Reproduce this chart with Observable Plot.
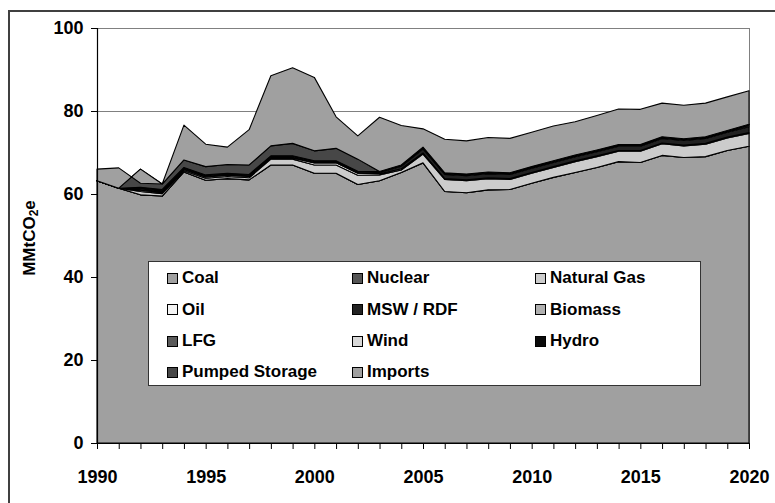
<!DOCTYPE html>
<html><head><meta charset="utf-8">
<script src="https://cdn.jsdelivr.net/npm/d3@7"></script>
<script src="https://cdn.jsdelivr.net/npm/@observablehq/plot@0.6"></script>
<style>
html,body{margin:0;padding:0;width:775px;height:503px;overflow:hidden;background:#fff;}
body{position:relative;font-family:"Liberation Sans",Arial,sans-serif;font-weight:bold;color:#000;}
#frame{position:absolute;left:8px;top:10px;width:800px;height:520px;border:2px solid #404040;box-sizing:border-box;}
#chart{position:absolute;left:0;top:0;}
#ylabel{position:absolute;left:30px;top:238px;transform:translate(-50%,-50%) rotate(-90deg);font-size:17px;white-space:nowrap;}
#ylabel sub{font-size:12px;vertical-align:-3px;}
#legend{position:absolute;left:148px;top:261px;width:553px;height:125px;background:#fff;border:1px solid #333;box-sizing:border-box;}
.item{position:absolute;display:flex;align-items:center;height:20px;font-size:17px;white-space:nowrap;}
.sw{width:11px;height:11px;border:1px solid #000;box-sizing:border-box;margin-right:4px;flex:none;}
</style></head><body>
<div id="frame"></div>
<div id="chart"></div>
<div id="ylabel">MMtCO<sub>2</sub>e</div>
<div id="legend"></div>
<script>
// ---- data ----
const years = [1990,1991,1992,1993,1994,1995,1996,1997,1998,1999,2000,2001,2002,2003,2004,2005,2006,2007,2008,2009,2010,2011,2012,2013,2014,2015,2016,2017,2018,2019,2020];
const seriesNames = ["Coal","Nuclear","Natural Gas","Oil","MSW / RDF","Biomass","LFG","Wind","Hydro","Pumped Storage","Imports"];
const coal = [63.2,61.4,59.8,59.5,65.3,63.3,63.7,63.4,67.0,67.0,65.0,65.0,62.3,63.2,65.2,67.5,60.6,60.3,61.0,61.1,62.6,64.0,65.2,66.4,67.8,67.6,69.3,68.8,69.0,70.5,71.5];
const nuclear = [0,0,0,0,0,0,0,0,0,0,0,0,0,0,0,0,0,0,0,0,0,0,0,0,0,0,0,0,0,0,0];
const naturalGas = [0,0,0.8,0.6,0.3,0.5,0.5,0.5,1.4,1.4,2.0,2.0,2.2,1.4,0.6,2.1,2.9,2.9,2.7,2.4,2.4,2.4,2.6,2.6,2.5,2.7,2.8,2.8,3.0,3.0,3.1];
const oil = [0,0,0.3,0.3,0.3,0.3,0.3,0.3,0.3,0.3,0.5,0.5,0.5,0.3,0.3,0.3,0.2,0.2,0.2,0.2,0.2,0.2,0.2,0.2,0.2,0.2,0.2,0.2,0.2,0.2,0.2];
const mswRdf = [0,0,0.3,0.3,0.3,0.3,0.3,0.3,0.3,0.3,0.3,0.3,0.3,0.3,0.6,0.9,1.0,1.0,1.0,1.0,1.0,1.0,1.0,1.0,1.0,1.0,1.1,1.1,1.2,1.2,1.4];
const biomass = [0,0,0.2,0.2,0.1,0.1,0.1,0.1,0.1,0.1,0.1,0.1,0.1,0.1,0.2,0.3,0.2,0.2,0.2,0.2,0.2,0.2,0.2,0.2,0.2,0.2,0.2,0.2,0.2,0.2,0.3];
const lfg = [0,0,0.2,0.2,0.1,0.1,0.1,0.1,0.1,0.1,0.1,0.1,0.1,0.1,0.1,0.2,0.2,0.2,0.2,0.2,0.2,0.2,0.2,0.2,0.2,0.2,0.2,0.2,0.2,0.2,0.3];
const wind = [0,0,0,0,0,0,0,0,0,0,0,0,0,0,0,0,0,0,0,0,0,0,0,0,0,0,0,0,0,0,0];
const hydro = [0,0,0,0,0,0,0,0,0,0,0,0,0,0,0,0,0,0,0,0,0,0,0,0,0,0,0,0,0,0,0];
const pumpedStorage = [0,0,4.4,1.3,1.8,2.0,2.1,2.3,2.4,3.0,2.4,3.0,2.9,0,0,0,0,0,0,0,0,0,0,0,0,0,0,0,0,0,0];
const imports = [2.8,4.9,-3.4,0,8.4,5.4,4.2,8.5,16.9,18.2,17.7,7.6,5.6,13.1,9.5,4.4,8.1,8.0,8.3,8.3,8.3,8.4,8.0,8.3,8.6,8.5,8.1,8.1,8.1,8.1,8.1];
const yTicks = [0,20,40,60,80,100];
const xTickLabels = [1990,1995,2000,2005,2010,2015,2020];

// ---- styles ----
const palette = ["#a0a0a0","#555555","#cccccc","#f4f4f4","#222222","#b0b0b0","#5a5a5a","#d8d8d8","#0a0a0a","#474747","#a0a0a0"];
const FONT = "Liberation Sans, Arial, sans-serif";

// ---- build stacked table (spreadsheet-style cumulative stacking) ----
const seriesValues = [coal,nuclear,naturalGas,oil,mswRdf,biomass,lfg,wind,hydro,pumpedStorage,imports];
const rows = seriesNames.map(() => []);
years.forEach((yr, i) => {
  let cum = 0;
  seriesValues.forEach((vals, k) => {
    const lo = cum; cum += vals[i];
    rows[k].push({year: yr, series: seriesNames[k], lo, hi: cum});
  });
});

const areaMarks = rows.map((r, k) =>
  Plot.areaY(r, {x: "year", y1: "lo", y2: "hi", fill: palette[k], stroke: "#000", strokeWidth: 1.1})
);

const chart = Plot.plot({
  width: 775, height: 503,
  marginLeft: 97, marginRight: 26, marginTop: 28, marginBottom: 60,
  style: {fontFamily: FONT, fontSize: "18px", fontWeight: "bold", background: "transparent", color: "#000"},
  x: {domain: [1990, 2020]},
  y: {domain: [0, 100]},
  marks: [
    Plot.gridY({ticks: yTicks.filter(d => d > 0), stroke: "#808080", strokeOpacity: 1}),
    Plot.frame({stroke: "#808080"}),
    ...areaMarks,
    Plot.ruleX([1990], {stroke: "#000", strokeWidth: 1.2}),
    Plot.ruleY([0], {stroke: "#000", strokeWidth: 1.2}),
    Plot.axisY({ticks: yTicks, tickSize: 6, tickPadding: 8, label: null, fontSize: 18, fontWeight: "bold", stroke: "#000"}),
    Plot.axisX({ticks: years, tickSize: 6, tickFormat: () => "", label: null, stroke: "#000"}),
    Plot.axisX({ticks: xTickLabels, tickSize: 0, tickPadding: 27, tickFormat: d => String(d), label: null, fontSize: 18, fontWeight: "bold"})
  ]
});
document.getElementById("chart").appendChild(chart);

// ---- legend ----
const legend = document.getElementById("legend");
const colX = [18, 203, 386];
const rowY = [6, 37.5, 69, 100];
seriesNames.forEach((name, i) => {
  const it = document.createElement("div");
  it.className = "item";
  it.style.left = colX[i % 3] + "px";
  it.style.top = rowY[Math.floor(i / 3)] + "px";
  const sw = document.createElement("span");
  sw.className = "sw";
  sw.style.background = palette[i];
  const tx = document.createElement("span");
  tx.textContent = name;
  it.appendChild(sw); it.appendChild(tx);
  legend.appendChild(it);
});
</script>
</body></html>
